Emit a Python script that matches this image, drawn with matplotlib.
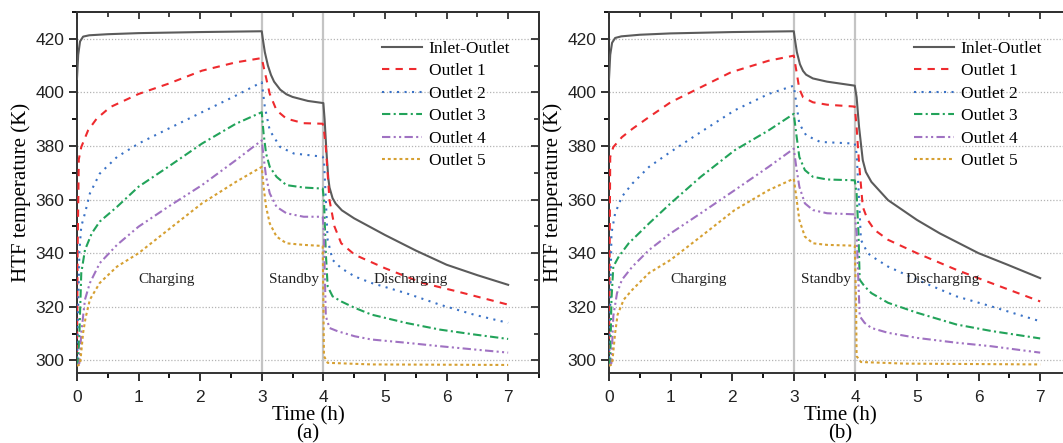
import numpy as np
import matplotlib
matplotlib.use('Agg')
import matplotlib.pyplot as plt
from matplotlib.ticker import MultipleLocator

# ---- data: time (h), HTF temperature (K) ----
labels = ['Inlet-Outlet', 'Outlet 1', 'Outlet 2', 'Outlet 3', 'Outlet 4', 'Outlet 5']

# panel (a)
inlet_a_t = [0, 0.02, 0.05, 0.1, 0.2, 0.5, 1, 2, 3.0, 3.02, 3.05, 3.1, 3.15, 3.2, 3.3, 3.4, 3.5, 3.75, 4.0,
             4.02, 4.05, 4.08, 4.1, 4.15, 4.2, 4.3, 4.5, 5, 5.5, 6, 6.5, 7]
inlet_a_T = [405, 414, 419, 420.8, 421.3, 421.7, 422.1, 422.5, 422.8, 419.5, 415, 410, 406.5, 404, 401, 399.3, 398.3, 396.8, 396,
             390, 378, 368, 364.5, 360.5, 358.5, 356, 353, 346.8, 341, 335.7, 331.8, 328.2]
out1_a_t = [0, 0.01, 0.03, 0.07, 0.18, 0.32, 0.54, 1.0, 1.48, 2.03, 2.58, 3.0, 3.05, 3.13, 3.24, 3.4, 3.68, 3.99,
            4.01, 4.04, 4.1, 4.18, 4.29, 4.51, 5.0, 5.61, 6.16, 7.0]
out1_a_T = [298, 340, 375, 379.6, 385.8, 390.2, 394.5, 399.4, 403.2, 408.1, 411.2, 412.8, 407.5, 399.4, 393.3, 390.2, 388.5, 388.3,
            385.8, 379.6, 359.8, 350, 343.7, 339.4, 334.4, 328.9, 325.8, 320.8]
out2_a_t = [0, 0.02, 0.04, 0.07, 0.13, 0.21, 0.37, 0.65, 1.0, 1.48, 2.03, 2.58, 3.0, 3.05, 3.13, 3.3, 3.52, 3.99,
            4.01, 4.04, 4.07, 4.15, 4.29, 4.51, 4.78, 5.34, 5.89, 6.44, 7.0]
out2_a_T = [298, 320, 341, 350, 354.9, 362.3, 369.7, 375.9, 380.9, 386.4, 392.6, 398.8, 403.8, 394.5, 385.8, 379.6, 377.2, 376,
            374.7, 359.8, 345, 337.5, 334.4, 331.3, 328.9, 325.1, 320.8, 317.1, 314]
out3_a_t = [0, 0.02, 0.04, 0.07, 0.13, 0.24, 0.37, 0.65, 1.0, 1.48, 2.03, 2.58, 3.0, 3.03, 3.07, 3.13, 3.24, 3.4, 3.68, 3.99,
            4.01, 4.04, 4.07, 4.15, 4.29, 4.51, 4.78, 5.34, 5.89, 6.44, 7.0]
out3_a_T = [298, 300, 310.3, 332.6, 341.2, 347.4, 351.8, 357.3, 364.8, 372.2, 380.9, 388.3, 392.6, 384.6, 377.2, 372.2, 368.5, 365.4, 364.5, 364.1,
            359.8, 340, 327.6, 323.9, 322, 319.6, 317.1, 314, 311.5, 309.7, 308]
out4_a_t = [0, 0.04, 0.07, 0.13, 0.21, 0.37, 0.65, 1.0, 1.48, 2.03, 2.58, 3.0, 3.03, 3.07, 3.13, 3.24, 3.4, 3.68, 3.99,
            4.01, 4.02, 4.04, 4.1, 4.23, 4.51, 4.78, 5.34, 5.89, 6.44, 7.0]
out4_a_T = [298, 299, 310.3, 322.7, 328.9, 336.3, 343.1, 349.9, 357.3, 365.4, 374.7, 382.1, 375.9, 368.5, 362.3, 357.3, 354.9, 353.6, 353.6,
            347.4, 335, 316.5, 312.1, 310.9, 309, 307.8, 306.6, 305.3, 304.1, 302.9]
out5_a_t = [0, 0.05, 0.1, 0.14, 0.21, 0.37, 0.65, 1.0, 1.48, 2.03, 2.58, 3.0, 3.03, 3.07, 3.13, 3.24, 3.4, 3.68, 3.99,
            4.0, 4.01, 4.07, 4.78, 7.0]
out5_a_T = [298, 298.5, 310.3, 315.9, 322.7, 328.9, 335, 340, 348.7, 358.6, 366.6, 372.2, 364.8, 357.3, 351.1, 346.2, 343.7, 343.1, 342.7,
            322.7, 301.6, 299.1, 298.5, 298.3]

# panel (b)
inlet_b_t = [0, 0.02, 0.05, 0.1, 0.2, 0.5, 1, 2, 3.0, 3.02, 3.05, 3.1, 3.15, 3.2, 3.31, 3.54, 3.99,
             4.02, 4.06, 4.12, 4.17, 4.26, 4.53, 5.0, 5.37, 6.0, 6.47, 7.0]
inlet_b_T = [405, 414, 418.5, 420.3, 420.9, 421.5, 422, 422.5, 422.8, 419.5, 415, 410.5, 408, 406.6, 405.2, 404, 402.5,
             398.2, 387, 374.7, 370.3, 366.6, 359.8, 352.4, 347.4, 340, 335.7, 330.7]
out1_b_t = [0, 0.01, 0.02, 0.07, 0.21, 0.38, 0.65, 1.0, 1.49, 1.98, 2.59, 3.0, 3.05, 3.09, 3.15, 3.31, 3.54, 3.99,
            4.02, 4.06, 4.12, 4.2, 4.31, 4.53, 5.0, 5.64, 6.2, 7.0]
out1_b_T = [298, 340, 375.9, 379.6, 383.3, 386.4, 390.8, 396.3, 401.9, 407.5, 411.8, 413.7, 406.9, 401.3, 398.2, 396.3, 395.4, 394.7,
            387, 373.4, 357.3, 352.4, 348.7, 345, 340, 333.8, 328.9, 322]
out2_b_t = [0, 0.02, 0.04, 0.1, 0.21, 0.38, 0.65, 1.0, 1.49, 2.04, 2.59, 3.0, 3.05, 3.09, 3.2, 3.43, 3.99,
            4.02, 4.06, 4.09, 4.2, 4.31, 4.53, 5.0, 5.64, 6.2, 7.0]
out2_b_T = [298, 320, 347.4, 354.9, 361.1, 366, 372.2, 377.8, 385.2, 393.3, 399.4, 402.5, 394.5, 388.3, 384, 381.5, 380.9,
            377.2, 359.8, 345, 340, 338.2, 335, 330.1, 323.9, 320.2, 314.6]
out3_b_t = [0, 0.02, 0.04, 0.07, 0.16, 0.32, 0.65, 1.0, 1.49, 2.04, 2.59, 3.0, 3.04, 3.09, 3.18, 3.31, 3.54, 3.99,
            4.02, 4.05, 4.07, 4.15, 4.26, 4.53, 5.0, 5.64, 6.2, 7.0]
out3_b_T = [298, 300, 322.7, 335, 338.8, 343.7, 351.1, 358.6, 368.5, 378.4, 385.8, 392, 384.6, 375.9, 371, 368.5, 367.5, 367.2,
            362.3, 347.4, 330.1, 327.6, 325.1, 321.5, 317.8, 313.4, 311, 308.2]
out4_b_t = [0, 0.04, 0.07, 0.13, 0.21, 0.38, 0.65, 1.0, 1.49, 2.04, 2.59, 3.0, 3.04, 3.09, 3.18, 3.31, 3.54, 3.99,
            4.02, 4.05, 4.07, 4.15, 4.26, 4.53, 5.0, 5.64, 6.2, 7.0]
out4_b_T = [298, 299, 316.5, 325.1, 330.1, 335, 341.2, 347.4, 354.9, 363.5, 372.2, 379, 372.2, 364.8, 358.6, 356.1, 354.9, 354.5,
            347.4, 328.9, 316.5, 314, 312.1, 310.3, 308.4, 306.6, 305.3, 302.9]
out5_b_t = [0, 0.05, 0.1, 0.14, 0.24, 0.38, 0.65, 1.0, 1.49, 2.04, 2.59, 3.0, 3.04, 3.09, 3.18, 3.31, 3.54, 3.99,
            4.01, 4.02, 4.09, 4.81, 7.0]
out5_b_T = [298, 298.5, 310.3, 317.1, 322.7, 326.4, 332.6, 337.5, 346.2, 356.1, 363.5, 367.8, 361.1, 352.4, 346.2, 343.7, 343.1, 342.8,
            322.7, 301.6, 299.4, 298.8, 298.5]

phases = ['Charging', 'Standby', 'Discharging']
phase_x = [1.46, 3.52, 5.41]
phase_bounds = [3, 4]

# ---- styles ----
colors = ['#5b5b5b', '#ee2a2e', '#3a72c6', '#22a35a', '#a072c2', '#d6a032']
styles = ['-', (0, (3.5, 3)), (0, (1, 2.6)), (0, (4, 1.6, 1, 1.6)),
          (0, (4, 1.6, 1, 1.6, 1, 1.6)), (0, (1.4, 1.4))]
serif = ['Liberation Serif', 'DejaVu Serif']
sans = ['Liberation Sans', 'DejaVu Sans']

plt.rcParams['font.family'] = sans
plt.rcParams['axes.linewidth'] = 1.4

fig = plt.figure(figsize=(10.63, 4.43), dpi=100)
ax_a = fig.add_axes([0.0724, 0.158, 0.4346, 0.815])
ax_b = fig.add_axes([0.5729, 0.158, 0.4346, 0.815])

panels = [
    (ax_a, '(a)', [(inlet_a_t, inlet_a_T), (out1_a_t, out1_a_T), (out2_a_t, out2_a_T),
                   (out3_a_t, out3_a_T), (out4_a_t, out4_a_T), (out5_a_t, out5_a_T)]),
    (ax_b, '(b)', [(inlet_b_t, inlet_b_T), (out1_b_t, out1_b_T), (out2_b_t, out2_b_T),
                   (out3_b_t, out3_b_T), (out4_b_t, out4_b_T), (out5_b_t, out5_b_T)]),
]

for ax, tag, series in panels:
    ax.set_xlim(0, 7.5)
    ax.set_ylim(295.3, 430)
    for y in range(300, 421, 20):
        ax.axhline(y, color='#b4b4b4', lw=0.9, ls=(0, (1, 1.5)), zorder=0)
    for xb in phase_bounds:
        ax.axvline(xb, color='#c4c4c4', lw=1.6, zorder=1)
    for (t, T), c, ls, lab in zip(series, colors, styles, labels):
        ax.plot(t, T, color=c, ls=ls, lw=1.5, label=lab, zorder=3)

    for name, px in zip(phases, phase_x):
        ax.text(px, 330.3, name, ha='center', va='center', fontsize=11, family=serif, color='#222222')

    ax.xaxis.set_major_locator(MultipleLocator(1))
    ax.xaxis.set_minor_locator(MultipleLocator(0.5))
    ax.yaxis.set_major_locator(MultipleLocator(20))
    ax.yaxis.set_minor_locator(MultipleLocator(10))
    ax.set_xticks(range(0, 8))
    ax.tick_params(which='major', direction='out', length=6, width=1.3, labelsize=12.5,
                   colors='#222222', pad=3)
    ax.tick_params(axis='x', which='major', pad=6)
    ax.tick_params(which='minor', direction='out', length=3.5, width=1.3)
    for s in ax.spines.values():
        s.set_color('#333333')

    # mirrored inward ticks on top and right
    top = ax.secondary_xaxis('top')
    top.xaxis.set_major_locator(MultipleLocator(1))
    top.xaxis.set_minor_locator(MultipleLocator(0.5))
    top.tick_params(which='both', direction='in', labeltop=False, width=1.3, color='#333333')
    top.tick_params(which='major', length=5)
    top.tick_params(which='minor', length=3.5)
    right = ax.secondary_yaxis('right')
    right.yaxis.set_major_locator(MultipleLocator(20))
    right.yaxis.set_minor_locator(MultipleLocator(10))
    right.tick_params(which='both', direction='in', labelright=False, width=1.3, color='#333333')
    right.tick_params(which='major', length=6)
    right.tick_params(which='minor', length=3.5)

    ax.set_ylabel('HTF temperature (K)', family=serif, fontsize=15, labelpad=3)
    ax.set_xlabel('Time (h)', family=serif, fontsize=15, labelpad=1)
    ax.text(0.5, -0.142, tag, transform=ax.transAxes, ha='center', va='top',
            family=serif, fontsize=15)

    ax.legend(loc='upper left', bbox_to_anchor=(0.66, 0.92), frameon=False,
              prop={'family': serif, 'size': 12.5}, handlelength=2.3,
              handletextpad=0.4, labelspacing=0.36, borderpad=0, borderaxespad=0)

fig.savefig('out.png', dpi=100)
